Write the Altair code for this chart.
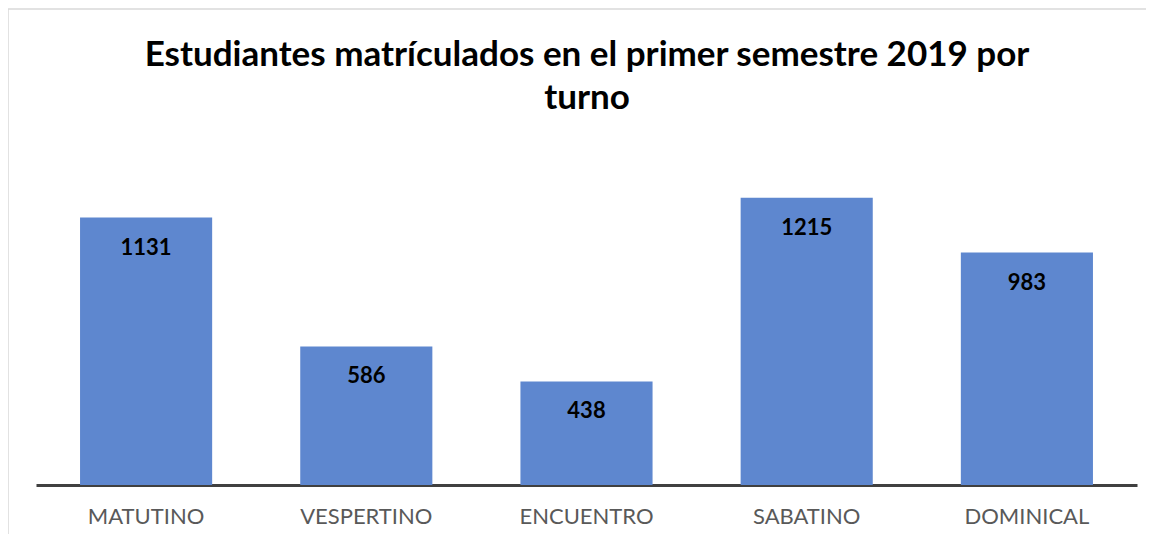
import altair as alt
import pandas as pd

categories = ["MATUTINO", "VESPERTINO", "ENCUENTRO", "SABATINO", "DOMINICAL"]
values = [1131, 586, 438, 1215, 983]
title_lines = ["Estudiantes matrículados en el primer semestre 2019 por", "turno"]

df = pd.DataFrame({"turno": categories, "estudiantes": values})
one = pd.DataFrame({"k": [0]})

W, H = 1101, 331

x_enc = alt.X("turno:N", sort=categories,
              scale=alt.Scale(paddingInner=0.4, paddingOuter=0.2),
              axis=alt.Axis(title=None, labelAngle=0, ticks=False, tickSize=0,
                            domainColor="#404040", domainWidth=3,
                            labelFont="Lato", labelFontSize=22, labelColor="#595959",
                            labelBaseline="alphabetic", labelPadding=38, grid=False))
y_enc = alt.Y("estudiantes:Q", scale=alt.Scale(domain=[0, 1400]), axis=None)

bars = alt.Chart(df).mark_bar(color="#5E87CF").encode(x=x_enc, y=y_enc)

labels = alt.Chart(df).mark_text(
    font="Lato", fontSize=22, fontWeight="bold", color="#000000",
    baseline="alphabetic", dy=37
).encode(x=alt.X("turno:N", sort=categories), y="estudiantes:Q", text="estudiantes:Q")

border = alt.Chart(one).mark_rect(
    fill=None, stroke="#D9D9D9", strokeWidth=1.5
).encode(x=alt.value(-28), x2=alt.value(1200), y=alt.value(-145), y2=alt.value(600))

title_style = dict(font="Lato", fontSize=35, fontWeight="bold", color="#000000",
                   baseline="alphabetic", align="center")
title1 = alt.Chart(one).mark_text(**title_style).encode(
    x=alt.value(551), y=alt.value(-88), text=alt.value(title_lines[0]))
title2 = alt.Chart(one).mark_text(**title_style).encode(
    x=alt.value(551), y=alt.value(-45), text=alt.value(title_lines[1]))

chart = alt.layer(border, bars, labels, title1, title2).properties(
    width=W, height=H,
    autosize=alt.AutoSizeParams(type="none"),
    padding={"left": 28, "top": 146, "right": 9, "bottom": 49},
).configure_view(stroke=None)

chart.save("out.html", embed_options={"renderer": "svg", "actions": False})
